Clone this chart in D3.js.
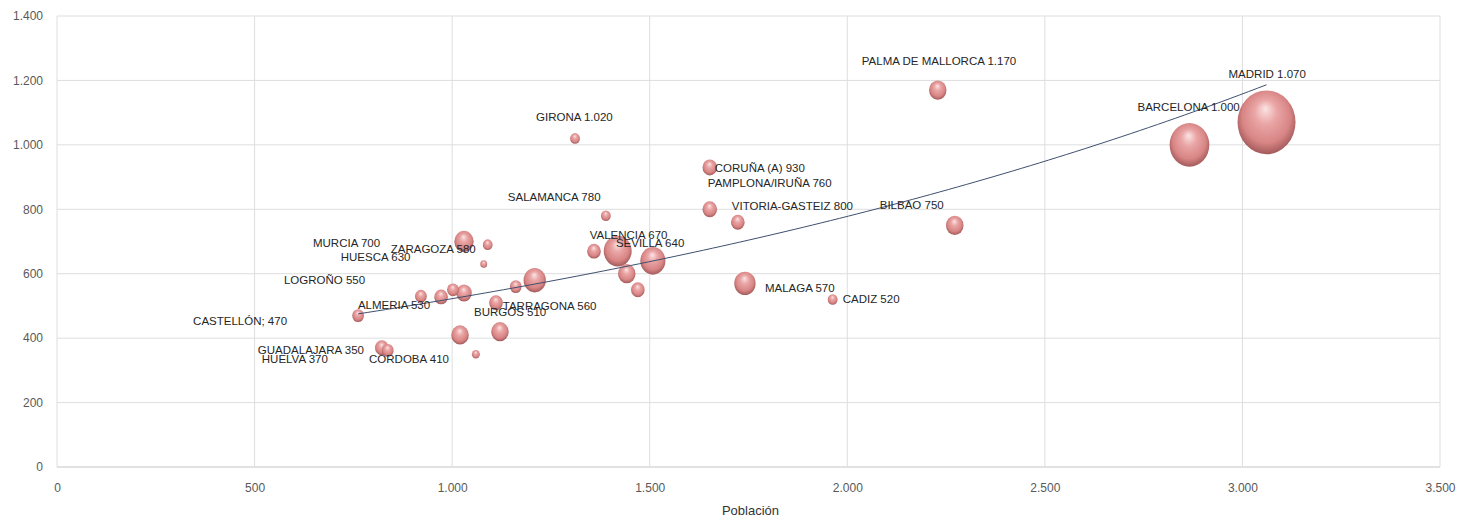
<!DOCTYPE html>
<html>
<head>
<meta charset="utf-8">
<script src="https://cdn.jsdelivr.net/npm/d3@7"></script>
<style>
  html, body { margin: 0; padding: 0; background: #fff; }
  svg text { font-family: 'Liberation Sans Narrow', 'Liberation Sans', Arial, sans-serif; }
</style>
</head>
<body>
<svg id="chart" width="1474" height="522"></svg>
<script>
// Cities: population (x), price (y), bubble size
const cities = ["MADRID", "BARCELONA", "PALMA DE MALLORCA", "BILBAO", "GIRONA", "CORUÑA (A)",
  "VITORIA-GASTEIZ", "PAMPLONA/IRUÑA", "SALAMANCA", "MALAGA", "CADIZ", "VALENCIA", "SEVILLA",
  "", "", "", "ZARAGOZA", "TARRAGONA", "BURGOS", "", "CORDOBA", "GUADALAJARA", "MURCIA", "",
  "HUESCA", "", "LOGROÑO", "", "ALMERIA", "CASTELLÓN;", "HUELVA", ""];
const poblacion = [3061, 2866, 2229, 2272, 1311, 1652, 1652, 1723, 1389, 1741, 1963, 1419, 1508,
  1359, 1442, 1470, 1209, 1161, 1111, 1121, 1020, 1060, 1030, 1090, 1080, 1030, 1002, 972, 921,
  762, 822, 837];
const precio = [1070, 1000, 1170, 750, 1020, 930, 800, 760, 780, 570, 520, 670, 640, 670, 600, 550,
  580, 560, 510, 420, 410, 350, 700, 690, 630, 540, 550, 528, 530, 470, 370, 362];
const tamano = [3200, 1500, 290, 290, 90, 200, 200, 175, 90, 430, 90, 740, 600, 175, 290, 175, 470,
  130, 175, 290, 290, 60, 356, 90, 45, 230, 130, 175, 130, 130, 175, 130];

// Axis ticks
const xTicks = [0, 500, 1000, 1500, 2000, 2500, 3000, 3500];
const yTicks = [0, 200, 400, 600, 800, 1000, 1200, 1400];

// Label placement (pixel offsets from bubble centre to label's left edge / middle)
const labelNudges = {
  "PALMA DE MALLORCA": [-76, -29], "MADRID": [-38, -48], "BARCELONA": [-52, -38],
  "GIRONA": [-39, -21], "CORUÑA (A)": [5, 1], "PAMPLONA/IRUÑA": [-30, -39],
  "SALAMANCA": [-98, -19], "VITORIA-GASTEIZ": [22, -3], "BILBAO": [-75, -20],
  "MURCIA": [-151, 1], "ZARAGOZA": [-144, -31], "HUESCA": [-143, -7],
  "VALENCIA": [-28, -16], "SEVILLA": [-37, -18], "LOGROÑO": [-169, -10],
  "ALMERIA": [-63, 9], "TARRAGONA": [-13, 19], "BURGOS": [-22, 9], "MALAGA": [20, 5],
  "CADIZ": [10, -1], "CASTELLÓN;": [-165, 5], "GUADALAJARA": [-218, -4],
  "HUELVA": [-120, 11], "CORDOBA": [-91, 24]
};

const es = d3.formatLocale({ decimal: ",", thousands: ".", grouping: [3], currency: ["", "€"] });
const fmt = es.format(",d");

const svg = d3.select("#chart");
const margin = { left: 57, right: 34, top: 16, bottom: 55 };
const W = 1474, H = 522;

const x = d3.scaleLinear().domain([0, 3500]).range([margin.left, W - margin.right]);
const y = d3.scaleLinear().domain([0, 1400]).range([H - margin.bottom, margin.top]);
const r = d3.scaleSqrt().domain([0, 3200]).range([0, 29]);

// Gradient for the shaded bubbles
const defs = svg.append("defs");
const grad = defs.append("radialGradient").attr("id", "ball")
  .attr("cx", "50%").attr("cy", "45%").attr("r", "55%")
  .attr("fx", "48%").attr("fy", "28%");
grad.append("stop").attr("offset", "0%").attr("stop-color", "#fbe4e4");
grad.append("stop").attr("offset", "35%").attr("stop-color", "#eaa5a5");
grad.append("stop").attr("offset", "75%").attr("stop-color", "#d88585");
grad.append("stop").attr("offset", "100%").attr("stop-color", "#a35a5a");

// Grid
const grid = svg.append("g");
grid.selectAll("line.h").data(yTicks).join("line")
  .attr("x1", x(0)).attr("x2", x(3500))
  .attr("y1", d => y(d)).attr("y2", d => y(d))
  .attr("stroke", d => d === 0 ? "#c4c4c4" : "#dedede").attr("stroke-width", 1);
grid.selectAll("line.v").data(xTicks).join("line")
  .attr("y1", y(0)).attr("y2", y(1400))
  .attr("x1", d => x(d)).attr("x2", d => x(d))
  .attr("stroke", "#dedede").attr("stroke-width", 1);

// Axes (labels only)
const xAxis = d3.axisBottom(x).tickValues(xTicks).tickFormat(fmt).tickSize(0).tickPadding(16);
const yAxis = d3.axisLeft(y).tickValues(yTicks).tickFormat(fmt).tickSize(0).tickPadding(14);
const gx = svg.append("g").attr("transform", `translate(0,${y(0)})`).call(xAxis);
const gy = svg.append("g").attr("transform", `translate(${x(0)},0)`).call(yAxis);
[gx, gy].forEach(g => {
  g.select(".domain").remove();
  g.selectAll("text").attr("fill", "#595959").attr("font-size", 12)
    .style("font-family", "'Liberation Sans Narrow', Arial, sans-serif");
});

svg.append("text").attr("x", (x(0) + x(3500)) / 2 + 2).attr("y", 515)
  .attr("text-anchor", "middle").attr("fill", "#333").attr("font-size", 13)
  .text("Población");

const pts = cities.map((c, i) => ({ name: c, px: poblacion[i], py: precio[i], size: tamano[i] }));

// Bubbles, largest first
const sorted = pts.slice().sort((a, b) => b.size - a.size);
const bubbles = svg.append("g");
bubbles.selectAll("ellipse").data(sorted).join("ellipse")
  .attr("cx", d => x(d.px)).attr("cy", d => y(d.py))
  .attr("rx", d => r(d.size)).attr("ry", d => r(d.size) * 1.1)
  .attr("fill", "url(#ball)");

// Exponential trendline (least squares on ln y)
const mx = d3.mean(pts, d => d.px), ml = d3.mean(pts, d => Math.log(d.py));
const b = d3.sum(pts, d => (d.px - mx) * (Math.log(d.py) - ml)) / d3.sum(pts, d => (d.px - mx) ** 2);
const a = Math.exp(ml - b * mx);
const [xmin, xmax] = d3.extent(pts, d => d.px);
const trend = d3.range(0, 101).map(i => {
  const xv = xmin + (xmax - xmin) * i / 100;
  return [xv, a * Math.exp(b * xv)];
});
svg.append("path").datum(trend)
  .attr("d", d3.line().x(d => x(d[0])).y(d => y(d[1])))
  .attr("fill", "none").attr("stroke", "#3e4f6e").attr("stroke-width", 1);

// Data labels
const lab = svg.append("g");
lab.selectAll("text").data(pts.filter(d => d.name)).join("text")
  .attr("x", d => x(d.px) + labelNudges[d.name][0])
  .attr("y", d => y(d.py) + labelNudges[d.name][1])
  .attr("dy", "0.35em")
  .attr("fill", "#262626").attr("font-size", 11.5)
  .text(d => `${d.name} ${fmt(d.py)}`);
</script>
</body>
</html>
